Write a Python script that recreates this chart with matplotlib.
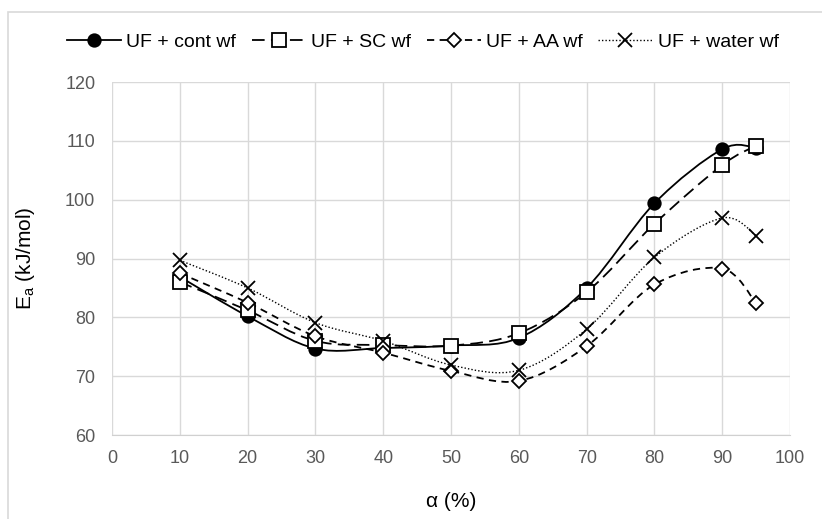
import matplotlib
matplotlib.use('Agg')
import matplotlib.pyplot as plt
import numpy as np
from matplotlib.path import Path
from matplotlib.patches import PathPatch, Rectangle
from matplotlib.lines import Line2D

plt.rcParams['font.family'] = ['Liberation Sans', 'DejaVu Sans']

alpha = [10, 20, 30, 40, 50, 60, 70, 80, 90, 95]
cont_wf = [86.9, 80.2, 74.7, 74.8, 75.2, 76.5, 85.0, 99.4, 108.6, 108.8]
sc_wf = [86.0, 81.2, 76.0, 75.3, 75.2, 77.3, 84.3, 95.9, 105.9, 109.2]
aa_wf = [87.5, 82.5, 76.8, 74.0, 70.9, 69.2, 75.1, 85.6, 88.3, 82.4]
water_wf = [89.7, 85.0, 79.1, 76.0, 71.9, 71.0, 78.0, 90.2, 96.9, 93.9]

labels = ['UF + cont wf', 'UF + SC wf', 'UF + AA wf', 'UF + water wf']
series = [cont_wf, sc_wf, aa_wf, water_wf]


def smooth_path(ax, xs, ys):
    # bezier through the points, excel style smoothing (done in pixel space)
    pts = ax.transData.transform(np.column_stack([xs, ys]))
    n = len(pts)
    verts = [pts[0]]
    codes = [Path.MOVETO]
    for i in range(n - 1):
        p0 = pts[i - 1] if i > 0 else pts[i]
        p1 = pts[i]
        p2 = pts[i + 1]
        p3 = pts[i + 2] if i + 2 < n else pts[i + 1]
        c1 = p1 + (p2 - p0) / 6.0
        c2 = p2 - (p3 - p1) / 6.0
        verts += [c1, c2, p2]
        codes += [Path.CURVE4] * 3
    verts = ax.transData.inverted().transform(np.array(verts))
    return Path(verts, codes)


fig = plt.figure(figsize=(8.22, 5.19), dpi=100)
ax = fig.add_axes([0.1363, 0.1618, 0.8248, 0.680])
ax.set_xlim(0, 100)
ax.set_ylim(60, 120)
ax.set_xticks(range(0, 101, 10))
ax.set_yticks(range(60, 121, 10))
ax.grid(True, color='#d9d9d9', linewidth=1)
ax.set_axisbelow(True)
for s in ['top', 'right', 'left']:
    ax.spines[s].set_visible(False)
ax.spines['bottom'].set_color('#d0d0d0')
ax.tick_params(length=0, labelsize=13, labelcolor='#595959')
ax.tick_params(axis='y', pad=12)
ax.tick_params(axis='x', pad=11)

styles = [
    dict(ls='-', lw=1.3, marker='o', mfc='black', ms=9),
    dict(ls=(0, (7, 3.5)), lw=1.3, marker='s', mfc='white', ms=10),
    dict(ls=(0, (4, 3)), lw=1.3, marker='D', mfc='white', ms=7.5),
    dict(ls=(0, (1, 1.5)), lw=1.0, marker='x', mfc='black', ms=10),
]

fig.canvas.draw()
handles = []
for ys, st, lab in zip(series, styles, labels):
    path = smooth_path(ax, alpha, ys)
    ax.add_patch(PathPatch(path, facecolor='none', edgecolor='black',
                           linestyle=st['ls'], linewidth=st['lw'], zorder=2))
    ax.plot(alpha, ys, linestyle='none', marker=st['marker'], ms=st['ms'],
            mfc=st['mfc'], mec='black', mew=1.3, zorder=3)
    handles.append(Line2D([], [], color='black', linestyle=st['ls'], lw=st['lw'],
                          marker=st['marker'], ms=st['ms'], mfc=st['mfc'],
                          mec='black', mew=1.3, label=lab))

ax.set_xlabel('α (%)', fontsize=15, color='black')
ax.set_ylabel('E$_\\mathregular{a}$ (kJ/mol)', fontsize=15, color='black')
ax.xaxis.set_label_coords(0.5, -0.161)
ax.yaxis.set_label_coords(-0.111, 0.5)

fig.legend(handles=handles, loc='center left', bbox_to_anchor=(67 / 822, 0.919), ncol=4,
           frameon=False, fontsize=14, handlelength=2.8, handletextpad=0.25,
           columnspacing=0.8, numpoints=1, borderpad=0, borderaxespad=0)

fig.patches.append(Rectangle((0.0097, -0.05), 1.2, 1.027, transform=fig.transFigure,
                             fill=False, edgecolor='#d9d9d9', linewidth=1.2))

fig.savefig('out.png', dpi=100)
